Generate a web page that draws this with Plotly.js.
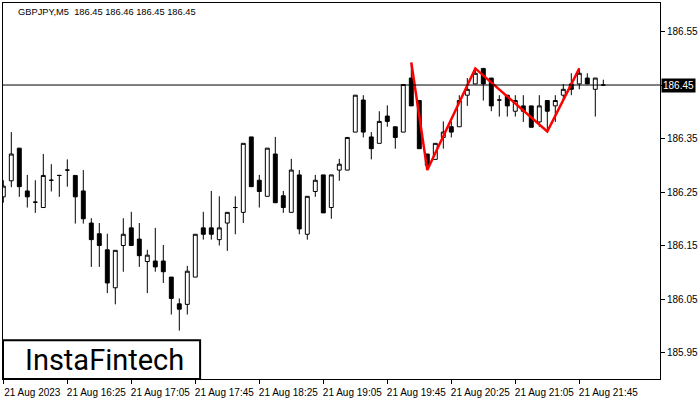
<!DOCTYPE html>
<html>
<head>
<meta charset="utf-8">
<script src="https://cdn.plot.ly/plotly-3.0.1.min.js"></script>
<style>html,body{margin:0;padding:0;background:#fff;}#chart{width:700px;height:400px;}</style>
</head>
<body>
<div id="chart"></div>
<script>
// Bar index (5-minute bars starting 21 Aug 2023 15:45)
const barIndex = Array.from({length: 76}, (_, i) => i);

const openP = [186.241,186.271,186.332,186.252,186.231,186.221,186.272,186.281,186.291,186.281,
186.252,186.192,186.172,186.142,186.071,186.150,186.183,186.162,186.120,186.121,
186.121,186.091,186.041,186.040,186.091,186.183,186.183,186.161,186.192,186.221,
186.212,186.353,186.272,186.242,186.321,186.243,186.212,186.282,186.171,186.251,
186.282,186.221,186.291,186.291,186.362,186.422,186.353,186.341,186.392,186.372,
186.362,186.463,186.421,186.321,186.311,186.352,186.372,186.372,186.431,186.452,
186.481,186.463,186.422,186.431,186.401,186.411,186.411,186.381,186.421,186.411,
186.431,186.452,186.452,186.463,186.442,186.450];
const highP = [186.272,186.362,186.332,186.282,186.272,186.321,186.302,186.281,186.311,186.281,
186.291,186.201,186.192,186.172,186.141,186.201,186.213,186.192,186.142,186.183,
186.151,186.091,186.051,186.112,186.171,186.213,186.252,186.242,186.212,186.242,
186.341,186.353,186.282,186.332,186.353,186.252,186.312,186.291,186.242,186.282,
186.282,186.282,186.312,186.352,186.431,186.431,186.362,186.401,186.412,186.372,
186.451,186.492,186.421,186.321,186.341,186.382,186.382,186.431,186.463,186.481,
186.481,186.463,186.431,186.431,186.431,186.431,186.411,186.431,186.421,186.431,
186.452,186.472,186.481,186.472,186.463,186.460];
const lowP = [186.230,186.259,186.241,186.221,186.211,186.221,186.251,186.241,186.260,186.191,
186.191,186.110,186.110,186.061,186.040,186.101,186.150,186.110,186.061,186.101,
186.080,186.021,185.991,186.021,186.091,186.161,186.161,186.150,186.140,186.171,
186.192,186.260,186.221,186.242,186.230,186.211,186.212,186.171,186.161,186.241,
186.211,186.200,186.271,186.291,186.362,186.352,186.311,186.341,186.372,186.331,
186.362,186.411,186.331,186.291,186.311,186.331,186.352,186.372,186.411,186.452,
186.421,186.401,186.391,186.391,186.391,186.381,186.371,186.372,186.363,186.381,
186.421,186.431,186.442,186.452,186.391,186.450];
const closeP = [186.261,186.321,186.260,186.241,186.231,186.281,186.272,186.281,186.291,186.241,
186.200,186.161,186.150,186.080,186.141,186.171,186.150,186.131,186.132,186.110,
186.101,186.051,186.031,186.102,186.171,186.171,186.171,186.183,186.212,186.221,
186.341,186.260,186.251,186.332,186.230,186.221,186.291,186.181,186.242,186.272,
186.211,186.282,186.302,186.352,186.431,186.362,186.331,186.382,186.382,186.352,
186.451,186.411,186.331,186.300,186.341,186.362,186.362,186.421,186.442,186.472,
186.452,186.411,186.422,186.411,186.421,186.401,186.371,186.411,186.401,186.421,
186.442,186.442,186.472,186.452,186.463,186.450];

// Pattern (triple top) line points
const patternBars = [51, 53, 59, 68, 72];
const patternPrices = [186.492, 186.291, 186.481, 186.363, 186.481];

// Axis ticks
const xTickBars = [0, 8, 16, 24, 32, 40, 48, 56, 64, 72];
const xTickLabels = ["21 Aug 2023","21 Aug 16:25","21 Aug 17:05","21 Aug 17:45","21 Aug 18:25",
  "21 Aug 19:05","21 Aug 19:45","21 Aug 20:25","21 Aug 21:05","21 Aug 21:45"];
const yTickVals = [185.95, 186.05, 186.15, 186.25, 186.35, 186.45, 186.55];
// 186.45 is shown in the current-price box instead of as a plain tick label
const yTickLabels = ["185.95","186.05","186.15","186.25","186.35","","186.55"];

const lastPrice = 186.45;
const lastPriceLabel = "186.45";
const headerText = "GBPJPY,M5  186.45 186.46 186.45 186.45";

const font = "Liberation Sans, Arial, sans-serif";

const traces = [
  {
    type: "candlestick",
    x: barIndex, open: openP, high: highP, low: lowP, close: closeP,
    increasing: {line: {color: "#000", width: 1}, fillcolor: "#fff"},
    decreasing: {line: {color: "#000", width: 1}, fillcolor: "#000"},
    whiskerwidth: 0,
    hoverinfo: "skip",
    showlegend: false
  },
  {
    type: "scatter", mode: "lines",
    x: patternBars, y: patternPrices,
    line: {color: "#ff0000", width: 2.5},
    hoverinfo: "skip", showlegend: false
  }
];

const layout = {
  width: 700, height: 400,
  margin: {l: 3, r: 40, t: 3, b: 21},
  paper_bgcolor: "#fff", plot_bgcolor: "#fff",
  showlegend: false,
  font: {family: font, size: 10, color: "#000"},
  xaxis: {
    range: [-0.0375, 82.0875],
    rangeslider: {visible: false},
    tickmode: "array", tickvals: xTickBars, ticktext: xTickLabels,
    ticks: "outside", ticklen: 4, tickcolor: "#000", tickwidth: 1,
    ticklabelshift: 29,
    showgrid: false, zeroline: false,
    showline: true, mirror: true, linecolor: "#000", linewidth: 1,
    tickfont: {family: font, size: 10, color: "#000"}
  },
  yaxis: {
    side: "right",
    range: [185.9005, 186.6033],
    tickmode: "array", tickvals: yTickVals, ticktext: yTickLabels,
    ticks: "outside", ticklen: 4, tickcolor: "#000", tickwidth: 1,
    showgrid: false, zeroline: false,
    showline: true, mirror: true, linecolor: "#000", linewidth: 1,
    tickfont: {family: font, size: 10, color: "#000"}
  },
  shapes: [
    {type: "line", xref: "paper", x0: 0, x1: 1, yref: "y", y0: lastPrice, y1: lastPrice,
     line: {color: "#000", width: 1}},
    {type: "rect", xref: "paper", yref: "paper", x0: 0, x1: 0.3, y0: 0, y1: 0.103,
     fillcolor: "#fff", line: {color: "#000", width: 2}}
  ],
  annotations: [
    {xref: "paper", yref: "y", x: 1, y: lastPrice, xanchor: "left", yanchor: "middle",
     xshift: 1, text: lastPriceLabel, showarrow: false, bgcolor: "#000", borderpad: 1,
     font: {family: font, size: 10, color: "#fff"}},
    {xref: "paper", yref: "paper", x: 0, y: 1, xanchor: "left", yanchor: "top",
     xshift: 13, yshift: -2, text: headerText, showarrow: false,
     font: {family: font, size: 9.3, color: "#000"}},
    {xref: "paper", yref: "paper", x: 0.154, y: 0.0515, xanchor: "center", yanchor: "middle",
     text: "InstaFintech", showarrow: false,
     font: {family: "Roboto, Liberation Sans, sans-serif", size: 29, color: "#000"}}
  ]
};

Plotly.newPlot("chart", traces, layout, {staticPlot: true, displayModeBar: false});
</script>
</body>
</html>
